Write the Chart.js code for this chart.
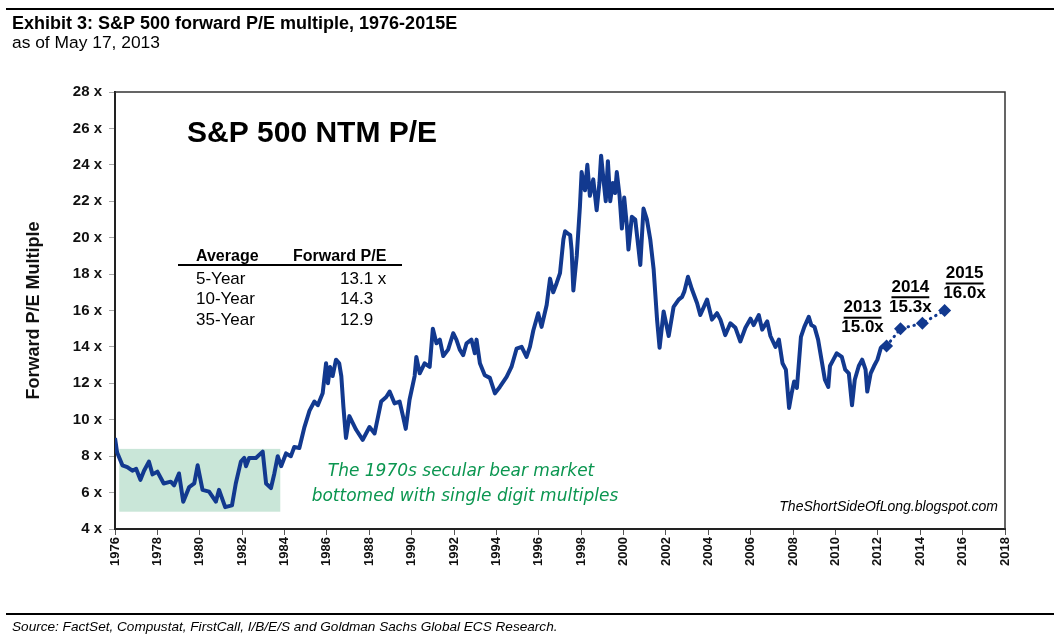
<!DOCTYPE html>
<html><head><meta charset="utf-8">
<script src="https://cdn.jsdelivr.net/npm/chart.js@4/dist/chart.umd.min.js"></script>
<style>html,body{margin:0;padding:0;background:#fff;}#wrap{width:1054px;height:642px;position:relative;}</style>
</head><body><div id="wrap"><canvas id="c" width="1054" height="642"></canvas></div>
<script>
// ---- data ----
const years = [
1976.00,1976.10,1976.35,1976.58,1976.82,1977.00,1977.20,1977.37,1977.60,1977.77,
1978.00,1978.30,1978.63,1978.79,1979.02,1979.22,1979.50,1979.74,1979.90,1980.13,
1980.44,1980.76,1980.91,1981.20,1981.52,1981.70,1981.94,1982.10,1982.18,1982.33,
1982.65,1982.97,1983.13,1983.36,1983.52,1983.68,1983.84,1984.07,1984.30,1984.46,
1984.70,1984.94,1985.18,1985.41,1985.57,1985.80,1985.96,1986.05,1986.15,1986.27,
1986.43,1986.58,1986.68,1986.78,1986.90,1987.06,1987.38,1987.69,1988.01,1988.25,
1988.56,1988.80,1988.96,1989.19,1989.43,1989.59,1989.72,1989.90,1990.14,1990.22,
1990.38,1990.61,1990.85,1991.00,1991.17,1991.33,1991.49,1991.72,1991.96,1992.11,
1992.27,1992.43,1992.59,1992.82,1992.98,1993.06,1993.22,1993.45,1993.69,1993.93,
1994.16,1994.48,1994.71,1994.95,1995.19,1995.42,1995.58,1995.74,1995.97,1996.13,
1996.37,1996.53,1996.68,1996.84,1997.00,1997.16,1997.24,1997.40,1997.48,1997.55,
1997.63,1997.79,1997.94,1998.02,1998.18,1998.29,1998.41,1998.57,1998.73,1998.86,
1998.94,1999.05,1999.16,1999.26,1999.37,1999.49,1999.60,1999.68,1999.81,1999.92,
2000.03,2000.16,2000.23,2000.39,2000.55,2000.71,2000.79,2000.94,2001.10,2001.26,
2001.42,2001.58,2001.70,2001.89,2002.13,2002.36,2002.60,2002.76,2002.87,2003.04,
2003.23,2003.47,2003.62,2003.94,2004.17,2004.41,2004.57,2004.80,2005.04,2005.28,
2005.51,2005.75,2005.99,2006.14,2006.38,2006.54,2006.78,2006.93,2007.17,2007.33,
2007.50,2007.66,2007.81,2007.93,2008.05,2008.18,2008.37,2008.53,2008.74,2008.86,
2009.01,2009.18,2009.34,2009.50,2009.66,2009.74,2009.90,2010.06,2010.30,2010.46,
2010.63,2010.78,2010.91,2011.10,2011.26,2011.42,2011.50,2011.66,2011.82,2011.98,
2012.14,2012.30,2012.41];
const forwardPE = [
9.0,8.2,7.5,7.4,7.2,7.3,6.7,7.2,7.7,7.0,
7.15,6.5,6.6,6.4,7.05,5.5,6.3,6.5,7.5,6.15,
6.05,5.5,6.15,5.2,5.3,6.5,7.7,7.9,7.45,7.9,
7.9,8.25,6.5,6.25,7.05,8.0,7.45,8.15,8.0,8.5,
8.45,9.6,10.5,11.0,10.8,11.45,13.1,12.0,12.9,12.4,
13.3,13.1,12.4,10.7,9.0,10.2,9.45,8.9,9.6,9.25,
11.0,11.25,11.55,10.9,11.0,10.2,9.5,11.1,12.4,13.45,
12.55,13.1,12.9,15.0,14.2,14.4,13.5,13.85,14.75,14.4,
13.85,13.55,14.2,14.4,13.65,14.4,13.1,12.45,12.3,11.45,
11.8,12.35,12.9,13.9,14.0,13.45,14.0,14.9,15.85,15.1,
16.3,17.75,17.0,17.5,18.05,19.9,20.35,20.2,20.15,19.3,
17.1,19.0,21.7,23.6,22.6,24.0,22.3,23.2,21.5,23.0,
24.5,23.2,22.0,24.2,22.0,23.0,22.45,23.6,22.3,20.5,
22.2,20.6,19.35,21.15,21.0,19.35,18.5,21.6,21.0,19.9,
18.25,15.5,13.95,15.95,14.6,16.2,16.6,16.75,17.05,17.85,
17.15,16.4,15.75,16.6,15.5,15.85,15.5,14.65,15.3,15.05,
14.3,15.05,15.55,15.2,15.75,14.95,15.4,14.6,14.0,14.4,
13.1,12.75,10.65,11.45,12.1,11.75,14.55,15.1,15.65,15.2,
15.1,14.4,13.3,12.2,11.8,12.95,13.3,13.65,13.45,12.75,
12.55,10.8,12.2,12.95,13.3,12.75,11.55,12.55,12.95,13.3,
13.95,14.1,14.05];
const forecastYears = ['2013', '2014', '2015'];
const forecastX = [2013.07, 2014.1, 2015.15];
const forecastPE = [15.0, 15.3, 16.0];
const forecastText = ['15.0x', '15.3x', '16.0x'];
const xTicks = [1976,1978,1980,1982,1984,1986,1988,1990,1992,1994,1996,1998,2000,2002,2004,2006,2008,2010,2012,2014,2016,2018];
const yTicks = [4,6,8,10,12,14,16,18,20,22,24,26,28];
const avgPeriods = ['5-Year', '10-Year', '35-Year'];
const avgValues = ['13.1 x', '14.3', '12.9'];
const bearBoxYears = [1976.2, 1983.8];
const bearBoxPE = [4.95, 8.4];

// ---- styles ----
const BLUE = '#12398f';
const SANS = '"Liberation Sans", Arial, sans-serif';

const actual = years.map((x, i) => ({x, y: forwardPE[i]}));
const lastIdx = years.length - 1;
const forecast = [{x: years[lastIdx], y: forwardPE[lastIdx]}]
  .concat(forecastX.map((x, i) => ({x, y: forecastPE[i]})));

const decor = {
  id: 'decor',
  beforeDatasetsDraw(chart) {
    const {ctx, scales: {x, y}} = chart;
    ctx.save();
    ctx.fillStyle = '#c9e6d8';
    const x0 = x.getPixelForValue(bearBoxYears[0]), x1 = x.getPixelForValue(bearBoxYears[1]);
    const y0 = y.getPixelForValue(bearBoxPE[1]), y1 = y.getPixelForValue(bearBoxPE[0]);
    ctx.fillRect(x0, y0, x1 - x0, y1 - y0);
    ctx.restore();
  },
  afterDraw(chart) {
    const {ctx, chartArea: a, scales: {x, y}} = chart;
    ctx.save();
    ctx.strokeStyle = '#333'; ctx.lineWidth = 1.5;
    ctx.beginPath(); ctx.moveTo(a.left, a.top); ctx.lineTo(a.right, a.top); ctx.lineTo(a.right, a.bottom); ctx.stroke();
    ctx.fillStyle = '#000';
    ctx.fillRect(6, 8, 1048, 2);
    ctx.fillRect(6, 613, 1048, 2);
    ctx.textBaseline = 'middle'; ctx.textAlign = 'left';
    ctx.font = 'bold 18px ' + SANS;
    ctx.fillText('Exhibit 3: S&P 500 forward P/E multiple, 1976-2015E', 12, 24);
    ctx.font = '17.4px ' + SANS;
    ctx.fillText('as of May 17, 2013', 12, 43);
    ctx.font = 'italic 13.6px ' + SANS;
    ctx.fillText('Source: FactSet, Compustat, FirstCall, I/B/E/S and Goldman Sachs Global ECS Research.', 12, 627);
    ctx.font = 'bold 30px ' + SANS;
    ctx.fillText('S&P 500 NTM P/E', 187, 134);
    ctx.font = 'bold 16px ' + SANS;
    ctx.fillText('Average', 196, 257);
    ctx.fillText('Forward P/E', 293, 257);
    ctx.fillRect(178, 264, 224, 2);
    ctx.font = '17px ' + SANS;
    avgPeriods.forEach((p, i) => {
      const ty = 279 + i * 20.5;
      ctx.fillText(p, 196, ty);
      ctx.fillText(avgValues[i], 340, ty);
    });
    const offs = [[-38, -21, -1], [-12, -36, -16], [20, -37, -17]];
    ctx.font = 'bold 17px ' + SANS;
    ctx.textAlign = 'center';
    forecastX.forEach((fx, i) => {
      const px = x.getPixelForValue(fx), py = y.getPixelForValue(forecastPE[i]);
      const cx = px + offs[i][0];
      ctx.fillText(forecastYears[i], cx, py + offs[i][1]);
      const w = ctx.measureText(forecastYears[i]).width;
      ctx.fillRect(cx - w / 2, py + offs[i][1] + 9, w, 2);
      ctx.fillText(forecastText[i], cx, py + offs[i][2]);
    });
    ctx.fillStyle = '#0b9650';
    ctx.font = 'italic 17px "DejaVu Sans", Verdana, sans-serif';
    ctx.fillText('The 1970s secular bear market', 461, 472);
    ctx.fillText('bottomed with single digit multiples', 465, 497);
    ctx.fillStyle = '#000';
    ctx.textAlign = 'right';
    ctx.font = 'italic 14px ' + SANS;
    ctx.fillText('TheShortSideOfLong.blogspot.com', 998, 507);
    ctx.restore();
  }
};

new Chart(document.getElementById('c'), {
  type: 'line',
  data: {
    datasets: [
      {label: 'S&P 500 NTM P/E', data: actual, borderColor: BLUE, borderWidth: 4, pointRadius: 0, tension: 0, borderJoinStyle: 'round', order: 2},
      {label: 'Estimates', data: forecast, borderColor: BLUE, backgroundColor: BLUE, borderWidth: 3, borderDash: [0.5, 5.5], borderCapStyle: 'round',
       pointStyle: 'rectRot', pointRadius: 6.5, pointBorderWidth: 0, pointBackgroundColor: BLUE, order: 1}
    ]
  },
  options: {
    responsive: false, animation: false, devicePixelRatio: 1,
    layout: {padding: {top: 92, right: 49, left: 0, bottom: 0}},
    plugins: {legend: {display: false}, tooltip: {enabled: false}, title: {display: false}},
    scales: {
      x: {
        type: 'linear', min: 1976, max: 2018,
        afterBuildTicks: s => { s.ticks = xTicks.map(v => ({value: v})); },
        afterFit: s => { s.height = 113; },
        ticks: {autoSkip: false, minRotation: 90, maxRotation: 90, padding: 2, color: '#111',
                font: {family: SANS, size: 13, weight: 'bold'}, callback: v => String(v)},
        grid: {drawOnChartArea: false, drawTicks: true, tickLength: 6, color: '#555'},
        border: {display: true, color: '#222', width: 2}
      },
      y: {
        min: 4, max: 28,
        afterBuildTicks: s => { s.ticks = yTicks.map(v => ({value: v})); },
        afterFit: s => { s.width = 115; },
        ticks: {padding: 7, color: '#111', font: {family: SANS, size: 15, weight: 'bold'}, callback: v => v + ' x'},
        grid: {drawOnChartArea: false, drawTicks: true, tickLength: 6, color: '#aaa'},
        border: {display: true, color: '#222', width: 2},
        title: {display: true, text: 'Forward P/E Multiple', color: '#111', font: {family: SANS, size: 18, weight: 'bold'}, padding: {top: 23, bottom: 0}}
      }
    }
  },
  plugins: [decor]
});
</script></body></html>
